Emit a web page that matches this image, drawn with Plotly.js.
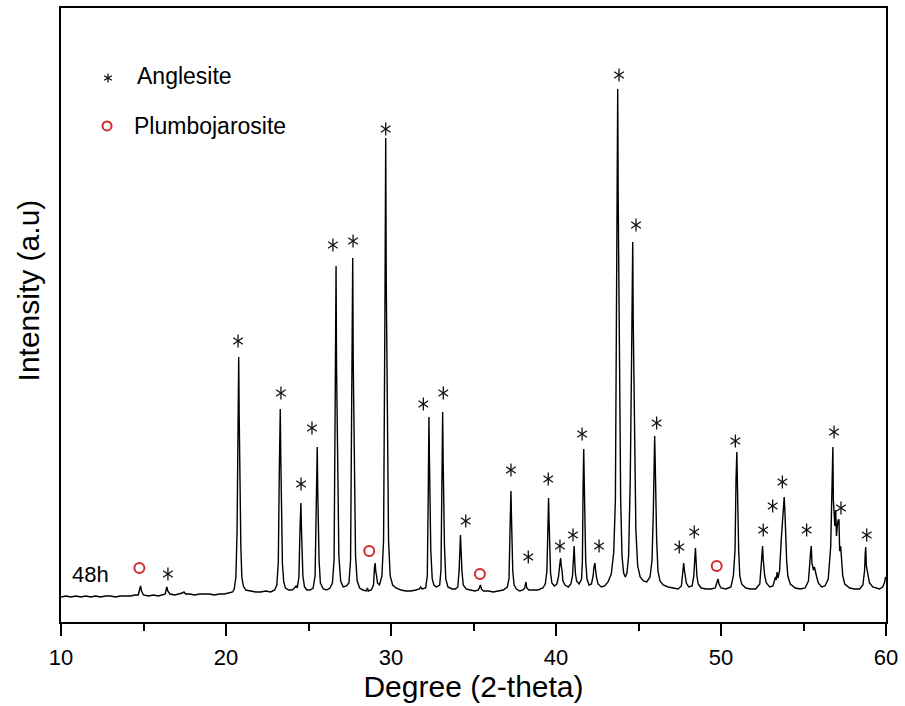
<!DOCTYPE html>
<html>
<head>
<meta charset="utf-8">
<script src="https://cdn.plot.ly/plotly-3.0.1.min.js"></script>
<style>
  html, body { margin: 0; padding: 0; background: #ffffff; }
  #chart { width: 905px; height: 706px; }
</style>
</head>
<body>
<div id="chart"></div>
<script>
// ---- XRD pattern (48h): [2-theta (deg), intensity (a.u.)] ----
const pattern10to20 = [
  [10.0,25],[10.3,26],[10.6,25],[10.9,26],[11.2,25],[11.5,26],[11.8,25],[12.1,26],[12.4,25],[12.7,26],
  [13.0,26],[13.3,25],[13.6,26],[13.9,26],[14.2,26],[14.5,27],[14.68,27],[14.76,32],[14.82,36],[14.88,31],
  [15.0,27],[15.3,26],[15.6,27],[15.9,26],[16.2,27],[16.32,28],[16.38,33],[16.42,35],[16.47,31],[16.6,28],
  [16.9,27],[17.2,28],[17.35,29],[17.45,30],[17.55,28],[17.8,28],[18.1,27],[18.4,28],[18.7,28],[19.0,28],
  [19.3,27],[19.6,28],[19.9,28]
];
const pattern20to31 = [
  [20.2,29],[20.4,30],[20.5,33],[20.6,45],[20.67,90],[20.72,180],[20.77,265],[20.8,205],[20.83,155],[20.86,135],
  [20.9,75],[20.96,45],[21.05,36],[21.2,32],[21.5,31],[21.8,30],[22.1,30],[22.4,31],[22.7,30],[22.95,32],
  [23.08,37],[23.17,60],[23.23,150],[23.29,213],[23.32,165],[23.35,125],[23.38,100],[23.42,58],[23.5,40],[23.6,34],
  [23.8,32],[24.0,32],[24.15,34],[24.25,36],[24.32,34],[24.42,45],[24.48,90],[24.54,119],[24.57,95],[24.61,76],
  [24.66,46],[24.76,35],[24.9,32],[25.1,32],[25.28,34],[25.4,46],[25.46,120],[25.53,175],[25.56,132],[25.6,102],
  [25.64,62],[25.72,39],[25.9,33],[26.1,32],[26.3,34],[26.45,39],[26.55,62],[26.62,225],[26.67,356],[26.7,255],
  [26.74,195],[26.78,142],[26.84,66],[26.95,41],[27.1,35],[27.3,36],[27.45,39],[27.55,62],[27.63,235],[27.68,364],
  [27.71,262],[27.75,202],[27.79,150],[27.85,66],[27.95,41],[28.1,34],[28.3,32],[28.5,31],[28.57,34],[28.62,31],
  [28.8,32],[28.94,37],[29.0,55],[29.04,59],[29.08,50],[29.12,47],[29.18,39],[29.3,37],[29.45,46],[29.55,82],
  [29.63,305],[29.68,484],[29.71,345],[29.75,252],[29.79,182],[29.85,82],[29.95,46],[30.1,37],[30.3,34],[30.6,32],
  [30.9,31]
];
const pattern31to43 = [
  [31.2,31],[31.5,32],[31.72,33],[31.8,35],[31.88,33],[32.1,34],[32.2,46],[32.26,132],[32.3,205],[32.33,162],
  [32.37,122],[32.41,72],[32.5,43],[32.6,37],[32.75,35],[32.95,37],[33.03,52],[33.09,142],[33.13,210],[33.16,162],
  [33.2,122],[33.24,76],[33.32,43],[33.45,35],[33.7,33],[33.9,33],[34.05,35],[34.13,52],[34.21,87],[34.25,66],
  [34.3,51],[34.38,37],[34.55,33],[34.8,32],[35.1,31],[35.3,32],[35.38,36],[35.42,37],[35.48,33],[35.6,31],
  [35.9,31],[36.2,30],[36.5,31],[36.8,32],[37.05,35],[37.15,43],[37.22,96],[37.27,131],[37.3,106],[37.34,81],
  [37.38,51],[37.46,37],[37.6,33],[37.8,31],[38.0,32],[38.1,34],[38.18,40],[38.23,34],[38.35,32],[38.6,32],
  [38.9,32],[39.2,34],[39.35,38],[39.45,51],[39.51,96],[39.55,124],[39.58,101],[39.62,76],[39.67,49],[39.75,39],
  [39.9,36],[40.05,38],[40.15,45],[40.22,56],[40.28,64],[40.32,56],[40.37,51],[40.42,41],[40.55,37],[40.75,35],
  [40.9,38],[41.0,46],[41.06,70],[41.1,76],[41.14,60],[41.18,48],[41.25,41],[41.4,38],[41.55,43],[41.6,61],
  [41.64,132],[41.68,173],[41.71,142],[41.75,101],[41.8,61],[41.88,43],[42.0,37],[42.15,38],[42.25,46],[42.3,55],
  [42.36,59],[42.4,52],[42.45,45],[42.55,38],[42.75,35],[42.95,36]
];
const pattern43to50 = [
  [43.15,40],[43.35,48],[43.5,70],[43.6,122],[43.68,332],[43.74,533],[43.77,422],[43.81,312],[43.86,232],[43.92,122],
  [44.0,66],[44.1,49],[44.2,45],[44.3,49],[44.4,66],[44.5,142],[44.58,262],[44.65,380],[44.68,302],[44.72,232],
  [44.77,162],[44.84,92],[44.95,56],[45.1,45],[45.3,41],[45.5,40],[45.7,45],[45.82,62],[45.9,112],[45.95,162],
  [45.98,186],[46.01,162],[46.05,122],[46.1,82],[46.18,51],[46.3,41],[46.5,37],[46.8,35],[47.1,34],[47.4,33],
  [47.6,36],[47.7,52],[47.74,59],[47.78,52],[47.83,46],[47.9,39],[48.05,35],[48.25,36],[48.35,46],[48.42,68],
  [48.45,74],[48.49,61],[48.54,46],[48.62,38],[48.8,34],[49.1,33],[49.4,33],[49.65,34],[49.75,40],[49.82,43],
  [49.88,38],[50.0,34],[50.3,33]
];
const pattern50to60 = [
  [50.6,35],[50.75,46],[50.85,72],[50.91,142],[50.96,170],[50.99,142],[51.03,102],[51.07,72],[51.14,46],[51.25,38],
  [51.5,34],[51.8,33],[52.1,33],[52.35,38],[52.46,62],[52.52,76],[52.56,62],[52.6,53],[52.65,46],[52.75,39],
  [52.95,35],[53.15,36],[53.3,45],[53.35,42],[53.4,50],[53.45,44],[53.55,51],[53.65,82],[53.75,112],[53.8,122],
  [53.83,125],[53.87,112],[53.92,86],[53.98,61],[54.05,46],[54.2,38],[54.5,34],[54.8,33],[55.1,34],[55.3,41],
  [55.43,70],[55.47,76],[55.51,59],[55.55,56],[55.6,52],[55.66,55],[55.72,49],[55.8,45],[55.9,39],[56.1,35],
  [56.3,36],[56.5,43],[56.65,76],[56.73,142],[56.78,175],[56.81,122],[56.85,101],[56.9,96],[56.95,112],[57.0,86],
  [57.05,96],[57.1,102],[57.15,102],[57.19,71],[57.25,76],[57.3,61],[57.38,46],[57.5,38],[57.8,34],[58.1,33],
  [58.4,33],[58.6,37],[58.7,51],[58.74,68],[58.77,75],[58.81,56],[58.86,51],[58.92,45],[59.0,39],[59.2,35],
  [59.4,34],[59.6,33],[59.8,35],[59.92,40],[59.97,45],[60.0,44]
];

// ---- phase markers ----
const anglesiteX = [16.48,20.73,23.33,24.55,25.21,26.48,27.70,29.68,31.96,33.17,34.53,37.27,38.32,39.53,40.24,41.03,
                    41.58,42.61,43.82,44.85,46.10,47.47,48.38,50.87,52.56,53.13,53.72,55.19,56.85,57.27,58.83];
const anglesiteY = [48,281,229,138,194,377,381,493,218,229,101,152,65,143,76,87,
                    188,76,547,397,199,75,90,181,92,116,140,92,190,114,87];
const plumbojarositeX = [14.75,28.68,35.39,49.74];
const plumbojarositeY = [54,71,48,56];

const sampleLabel = '48h';
const legendNames = ['Anglesite', 'Plumbojarosite'];
const xTitle = 'Degree (2-theta)';
const yTitle = 'Intensity (a.u)';

// ---- build ----
const pattern = [].concat(pattern10to20, pattern20to31, pattern31to43, pattern43to50, pattern50to60);
const twoTheta = pattern.map(p => p[0]);
const intensity = pattern.map(p => p[1]);

const FONT = 'Liberation Sans, Arial, Helvetica, sans-serif';
const RED = '#d22a2a';

// six-armed asterisk = 'y-up' + 'y-down' line symbols overlaid
function starTrace(symbol) {
  return {
    x: anglesiteX, y: anglesiteY, type: 'scatter', mode: 'markers',
    marker: { symbol: symbol, size: 8, color: '#111111', line: { color: '#111111', width: 1.3 } },
    showlegend: false, hoverinfo: 'skip'
  };
}

const traces = [
  {
    x: twoTheta, y: intensity, type: 'scatter', mode: 'lines',
    line: { color: '#000000', width: 1.4 }, hoverinfo: 'skip', showlegend: false
  },
  starTrace('y-up-open'),
  starTrace('y-down-open'),
  {
    x: plumbojarositeX, y: plumbojarositeY, type: 'scatter', mode: 'markers',
    marker: { symbol: 'circle-open', size: 10, color: RED, line: { color: RED, width: 2 } },
    showlegend: false, hoverinfo: 'skip'
  }
];

const layout = {
  width: 905, height: 706,
  margin: { l: 61, r: 19, t: 8, b: 84 },
  paper_bgcolor: '#ffffff', plot_bgcolor: '#ffffff',
  font: { family: FONT, color: '#000000' },
  showlegend: false,
  xaxis: {
    range: [10, 60], tick0: 10, dtick: 10,
    ticks: 'outside', ticklen: 12, tickwidth: 2, tickcolor: '#000000',
    showline: true, linewidth: 2, linecolor: '#000000', mirror: true,
    showgrid: false, zeroline: false,
    tickfont: { family: FONT, size: 22, color: '#000000' },
    ticklabelstandoff: 3,
    minor: { dtick: 5, ticks: 'outside', ticklen: 7, tickwidth: 2, tickcolor: '#000000', showgrid: false },
    title: { text: xTitle, font: { family: FONT, size: 30, color: '#000000' }, standoff: 2 }
  },
  yaxis: {
    range: [0, 614], showticklabels: false, ticks: '',
    showline: true, linewidth: 2, linecolor: '#000000', mirror: true,
    showgrid: false, zeroline: false
  },
  annotations: [
    { text: yTitle, xref: 'paper', yref: 'paper', x: 0, y: 0.54, xshift: -33,
      xanchor: 'center', yanchor: 'middle', textangle: -90, showarrow: false,
      font: { family: FONT, size: 30, color: '#000000' } },
    { text: sampleLabel, xref: 'paper', yref: 'paper', x: 0.011, y: 0.077,
      xanchor: 'left', yanchor: 'middle', showarrow: false,
      font: { family: FONT, size: 22, color: '#000000' } },
    { text: legendNames[0], xref: 'paper', yref: 'paper', x: 0.0895, y: 0.889,
      xanchor: 'left', yanchor: 'middle', showarrow: false,
      font: { family: FONT, size: 23, color: '#000000' } },
    { text: legendNames[1], xref: 'paper', yref: 'paper', x: 0.0855, y: 0.808,
      xanchor: 'left', yanchor: 'middle', showarrow: false,
      font: { family: FONT, size: 23, color: '#000000' } }
  ],
  shapes: [
    { type: 'path', xref: 'paper', yref: 'paper', xsizemode: 'pixel', ysizemode: 'pixel',
      xanchor: 0.0570, yanchor: 0.886,
      path: 'M0,-4.5L0,4.5M-3.9,-2.25L3.9,2.25M-3.9,2.25L3.9,-2.25',
      line: { color: '#111111', width: 1.3 } },
    { type: 'circle', xref: 'paper', yref: 'paper', xsizemode: 'pixel', ysizemode: 'pixel',
      xanchor: 0.0558, yanchor: 0.808, x0: -4.5, x1: 4.5, y0: -4.5, y1: 4.5,
      line: { color: RED, width: 2 } }
  ]
};

Plotly.newPlot('chart', traces, layout, { staticPlot: true, displayModeBar: false });
</script>
</body>
</html>
